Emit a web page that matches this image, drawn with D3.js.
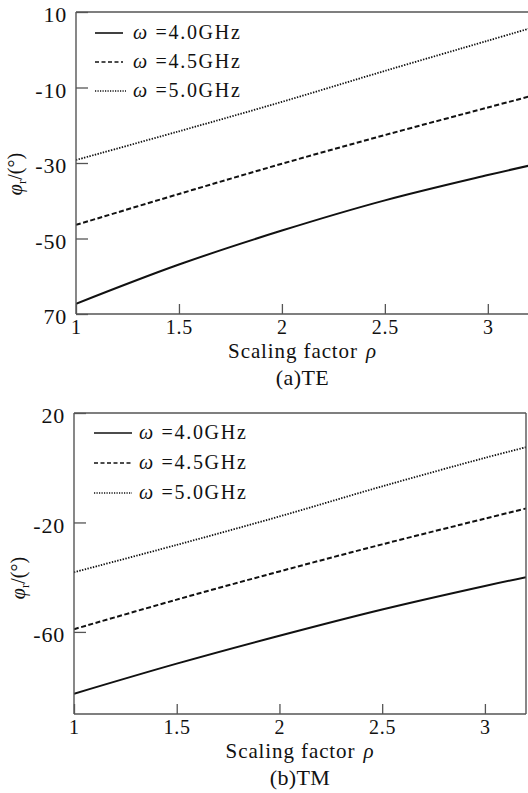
<!DOCTYPE html>
<html>
<head>
<meta charset="utf-8">
<script src="https://cdn.jsdelivr.net/npm/d3@7"></script>
<style>
  html, body { margin: 0; padding: 0; background: #fff; }
  svg { display: block; }
  text { font-family: "Liberation Serif", "Times New Roman", serif; fill: #111; }
</style>
</head>
<body>
<svg id="chart" width="528" height="793"></svg>
<script>
// Scaling factor samples
const rho = [1, 1.5, 2, 2.5, 3, 3.2];

// Reflection phase (degrees), TE polarisation
const te40 = [-67.3, -56.9, -47.9, -39.9, -33.2, -30.7];
const te45 = [-46.4, -38.2, -30.2, -22.6, -15.3, -12.4];
const te50 = [-29.2, -21.6, -13.8, -5.6, 2.4, 5.6];

// Reflection phase (degrees), TM polarisation
const tm40 = [-82.6, -71.6, -61.4, -51.8, -43.2, -40.0];
const tm45 = [-59.0, -48.2, -37.9, -28.0, -18.6, -14.9];
const tm50 = [-38.2, -28.2, -17.8, -6.8, 3.6, 7.5];

const seriesNames = ["4.0GHz", "4.5GHz", "5.0GHz"];

const xTicks = [1, 1.5, 2, 2.5, 3];
const xTickLabels = ["1", "1.5", "2", "2.5", "3"];
const teYTicks = [10, -10, -30, -50, -70];
const teYLabels = ["10", "-10", "-30", "-50", "70"];
const tmYTicks = [20, -20, -60];
const tmYLabels = ["20", "-20", "-60"];

const svg = d3.select("#chart");

const lineStyles = [
  { width: 2.0, dash: null },
  { width: 2.0, dash: "5,2.5" },
  { width: 1.8, dash: "1.4,1.4" }
];

function panel(cfg) {
  const { left, right, top, bottom, yDomain, yTicks, yLabels, series,
          caption, legend, closedRight, yLabelPos } = cfg;
  const x = d3.scaleLinear().domain([1, 3.2]).range([left, right]);
  const y = d3.scaleLinear().domain(yDomain).range([bottom, top]);
  const g = svg.append("g");

  const clipId = "clip" + caption.replace(/[^a-z]/gi, "");
  g.append("clipPath").attr("id", clipId)
    .append("rect").attr("x", left).attr("y", top)
    .attr("width", Math.min(right, 528) - left).attr("height", bottom - top);

  // curves
  const line = d3.line().x((d, i) => x(rho[i])).y(d => y(d)).curve(d3.curveCatmullRom.alpha(0.5));
  series.forEach((s, k) => {
    g.append("path")
      .attr("d", line(s))
      .attr("fill", "none")
      .attr("stroke", "#111")
      .attr("stroke-width", lineStyles[k].width)
      .attr("stroke-dasharray", lineStyles[k].dash)
      .attr("clip-path", `url(#${clipId})`);
  });

  // frame
  const frame = g.append("g").attr("stroke", "#555").attr("stroke-width", 1.4).attr("fill", "none");
  frame.append("line").attr("x1", left).attr("x2", left).attr("y1", top).attr("y2", bottom);
  frame.append("line").attr("x1", left).attr("x2", right).attr("y1", top).attr("y2", top);
  frame.append("line").attr("x1", left).attr("x2", right).attr("y1", bottom).attr("y2", bottom);
  if (closedRight) {
    frame.append("line").attr("x1", right).attr("x2", right).attr("y1", top).attr("y2", bottom);
  }

  // x axis (ticks point inward)
  const xAxis = d3.axisBottom(x).tickValues(xTicks)
    .tickFormat((d, i) => xTickLabels[i]).tickSize(-10).tickPadding(6);
  const xg = g.append("g").attr("transform", `translate(0,${bottom})`).call(xAxis);
  xg.select(".domain").remove();
  xg.selectAll(".tick line").attr("stroke", "#555").attr("stroke-width", 1.3);
  xg.selectAll(".tick text").attr("font-size", 20).attr("font-family", "Liberation Serif")
    .attr("fill", "#111").attr("letter-spacing", 0.8);

  // y axis (ticks point inward)
  const yAxis = d3.axisLeft(y).tickValues(yTicks)
    .tickFormat((d, i) => yLabels[i]).tickSize(-12).tickPadding(9);
  const yg = g.append("g").attr("transform", `translate(${left},0)`).call(yAxis);
  yg.select(".domain").remove();
  yg.selectAll(".tick line").attr("stroke", "#555").attr("stroke-width", 1.3);
  yg.selectAll(".tick text").attr("font-size", 22).attr("font-family", "Liberation Serif")
    .attr("fill", "#111").attr("letter-spacing", 0.8).attr("dy", "0.45em");

  // y axis title
  const yt = g.append("text")
    .attr("transform", `translate(${yLabelPos[0]},${yLabelPos[1]}) rotate(-90)`)
    .attr("text-anchor", "middle").attr("font-size", 20);
  yt.append("tspan").attr("font-style", "italic").text("φ");
  yt.append("tspan").attr("font-size", 13).attr("dy", 4).text("r");
  yt.append("tspan").attr("dy", -4).text("/(°)");

  // x axis title
  const cx = (left + right) / 2;
  const xt = g.append("text").attr("x", cx).attr("y", bottom + 44)
    .attr("text-anchor", "middle").attr("font-size", 21).attr("letter-spacing", 0.9);
  xt.append("tspan").text("Scaling factor");
  xt.append("tspan").attr("dx", 8).attr("font-style", "italic").text("ρ");

  // caption
  g.append("text").attr("x", cx).attr("y", bottom + 71)
    .attr("text-anchor", "middle").attr("font-size", 22).attr("letter-spacing", 0.4)
    .text(caption);

  // legend
  seriesNames.forEach((name, k) => {
    const ly = legend.y0 + k * legend.step;
    g.append("line")
      .attr("x1", legend.x0).attr("x2", legend.x0 + legend.len[k])
      .attr("y1", ly - 6).attr("y2", ly - 6)
      .attr("stroke", "#111").attr("stroke-width", k === 2 ? 1.3 : 1.6)
      .attr("stroke-dasharray", k === 0 ? null : (k === 1 ? "4,2.5" : "1.2,1.3"));
    const t = g.append("text").attr("x", legend.tx).attr("y", ly)
      .attr("font-size", 20).attr("letter-spacing", 1.7);
    t.append("tspan").attr("font-style", "italic").text("ω");
    t.append("tspan").text(" =" + name);
  });
}

panel({
  left: 76, right: 529, top: 12, bottom: 314,
  yDomain: [-70, 10], yTicks: teYTicks, yLabels: teYLabels,
  series: [te40, te45, te50], caption: "(a)TE", closedRight: false,
  yLabelPos: [22, 174],
  legend: { x0: 95, tx: 133, y0: 39, step: 29, len: [28, 28, 31] }
});

panel({
  left: 74, right: 526, top: 413, bottom: 714,
  yDomain: [-90, 20], yTicks: tmYTicks, yLabels: tmYLabels,
  series: [tm40, tm45, tm50], caption: "(b)TM", closedRight: true,
  yLabelPos: [25, 578],
  legend: { x0: 94, tx: 139, y0: 439, step: 30, len: [38, 38, 38] }
});
</script>
</body>
</html>
